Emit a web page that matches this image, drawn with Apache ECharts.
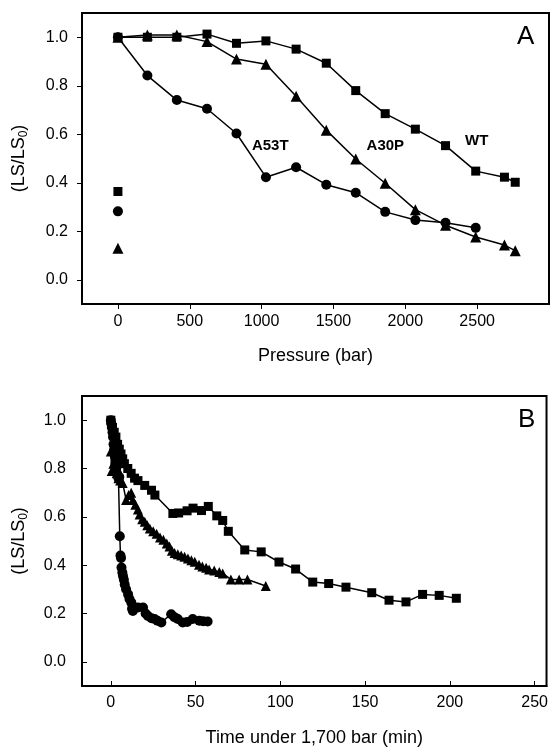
<!DOCTYPE html>
<html>
<head>
<meta charset="utf-8">
<script src="https://cdn.jsdelivr.net/npm/echarts@6/dist/echarts.min.js"></script>
<style>html,body{margin:0;padding:0;background:#fff}#c{width:551px;height:748px}</style>
</head>
<body>
<div id="c"></div>
<script>
// ---------- Panel A: LS/LS0 vs pressure (bar) ----------
const pressureWT   = [0, 205, 410, 620, 825, 1030, 1240, 1450, 1655, 1860, 2070, 2280, 2490, 2690, 2765];
const lsWT_A       = [1.0, 1.0, 1.0, 1.013, 0.975, 0.985, 0.951, 0.893, 0.780, 0.685, 0.621, 0.553, 0.448, 0.423, 0.402];
const pressureA30P = [0, 205, 410, 620, 825, 1030, 1240, 1450, 1655, 1860, 2070, 2280, 2490, 2690, 2765];
const lsA30P_A     = [1.0, 1.009, 1.009, 0.982, 0.910, 0.889, 0.757, 0.617, 0.498, 0.398, 0.289, 0.225, 0.176, 0.143, 0.120];
const pressureA53T = [0, 205, 410, 620, 825, 1030, 1240, 1450, 1655, 1860, 2070, 2280, 2490];
const lsA53T_A     = [1.0, 0.842, 0.741, 0.705, 0.603, 0.423, 0.464, 0.392, 0.359, 0.280, 0.246, 0.235, 0.214];
// isolated points at 0 bar
const isoWT   = [[0, 0.364]];
const isoA53T = [[0, 0.282]];
const isoA30P = [[0, 0.130]];
const xTicksA = [0, 500, 1000, 1500, 2000, 2500];
const yTicks  = [0, 0.2, 0.4, 0.6, 0.8, 1.0];
const annotA  = [['A53T', 1060, 0.552], ['A30P', 1861, 0.552], ['WT', 2497, 0.573]];

// ---------- Panel B: LS/LS0 vs time under 1,700 bar (min) ----------
const timeWT = [0, 1, 2, 3, 4, 5, 6, 7, 8, 10, 12, 14, 16, 20, 24, 26, 36.6, 40, 45, 48.5, 53.5, 57.5, 62.5, 66, 69.3, 79, 88.7, 99.2, 109, 119.1, 128.5, 138.7, 153.9, 164.1, 174.1, 183.9, 193.7, 203.8];
const lsWT_B = [1.0, 0.97, 0.95, 0.93, 0.90, 0.88, 0.86, 0.84, 0.82, 0.80, 0.78, 0.76, 0.75, 0.73, 0.71, 0.69, 0.614, 0.616, 0.625, 0.636, 0.626, 0.643, 0.604, 0.585, 0.540, 0.463, 0.455, 0.413, 0.384, 0.330, 0.324, 0.309, 0.286, 0.255, 0.248, 0.279, 0.275, 0.263];
const timeA30P = [0, 0.5, 1.5, 2.5, 3.5, 4.5, 5.5, 7, 9, 10.5, 12, 13, 14.5, 16, 17, 18.5, 20, 21.5, 23, 25, 27, 29, 31, 33, 34.6, 36, 37.6, 39.5, 41.5, 43.5, 45.5, 47.5, 49.5, 52, 54, 56.2, 58, 61, 64, 66, 70.8, 75.7, 80.6, 91.4];
const lsA30P_B = [0.87, 0.79, 0.82, 0.80, 0.78, 0.76, 0.75, 0.74, 0.67, 0.69, 0.70, 0.67, 0.65, 0.63, 0.61, 0.59, 0.58, 0.565, 0.552, 0.54, 0.53, 0.515, 0.505, 0.49, 0.477, 0.46, 0.45, 0.445, 0.44, 0.435, 0.428, 0.42, 0.414, 0.402, 0.395, 0.389, 0.382, 0.378, 0.372, 0.366, 0.341, 0.341, 0.341, 0.314];
const timeA53T = [0, 0.3, 0.6, 1, 1.3, 1.6, 2, 2.4, 2.8, 3.2, 3.6, 4, 4.5, 5, 5.3, 5.7, 6, 6.3, 6.8, 7.2, 7.7, 8.2, 9, 10.2, 11, 12.1, 12.5, 13, 16, 19, 20.5, 21.9, 24, 25.8, 27.5, 29.8, 35.6, 37.5, 39.5, 42.4, 45, 48.3, 52.2, 54.5, 57.1];
const lsA53T_B = [1.0, 0.985, 0.97, 0.95, 0.93, 0.90, 0.88, 0.85, 0.82, 0.80, 0.78, 0.77, 0.76, 0.765, 0.52, 0.44, 0.43, 0.39, 0.37, 0.355, 0.34, 0.32, 0.30, 0.279, 0.26, 0.245, 0.22, 0.21, 0.225, 0.225, 0.20, 0.19, 0.18, 0.177, 0.17, 0.163, 0.197, 0.185, 0.177, 0.163, 0.165, 0.177, 0.17, 0.168, 0.167];
const xTicksB = [0, 50, 100, 150, 200, 250];

const zip = (xs, ys) => xs.map((x, i) => [x, ys[i]]);
const FONT = 'Liberation Sans';

function lineSeries(xi, data, symbol, size) {
  return {
    type: 'line', xAxisIndex: xi, yAxisIndex: xi, data: data,
    symbol: symbol, symbolSize: size, showSymbol: true,
    lineStyle: {color: '#000', width: 1.5},
    itemStyle: {color: '#000', opacity: 1},
    animation: false, z: 3
  };
}
function isoSeries(data, symbol, size) {
  return {type: 'scatter', xAxisIndex: 0, yAxisIndex: 0, data: data, symbol: symbol,
    symbolSize: size, itemStyle: {color: '#000', opacity: 1}, animation: false};
}
function xAxis(gi, min, max, ticks, name, inside, gap, margin) {
  return {
    type: 'value', gridIndex: gi, min: min, max: max,
    name: name, nameLocation: 'middle', nameGap: gap,
    nameTextStyle: {fontFamily: FONT, fontSize: 18, color: '#000'},
    axisLine: {show: true, onZero: false, lineStyle: {color: '#000', width: 2}},
    axisTick: {show: true, inside: inside, length: 5, customValues: ticks, lineStyle: {color: '#000', width: 1}},
    axisLabel: {customValues: ticks, fontFamily: FONT, fontSize: 16, color: '#000', margin: margin,
      formatter: v => String(v)},
    splitLine: {show: false}
  };
}
function yAxis(gi, inside, margin) {
  return {
    type: 'value', gridIndex: gi, min: -0.1, max: 1.1,
    name: '(LS/LS{s|0})', nameLocation: 'middle', nameGap: 52, nameRotate: 90,
    nameTextStyle: {fontFamily: FONT, fontSize: 18, color: '#000',
      rich: {s: {fontFamily: FONT, fontSize: 12, color: '#000', padding: [10, 0, 0, 0]}}},
    axisLine: {show: true, onZero: false, lineStyle: {color: '#000', width: 2}},
    axisTick: {show: true, inside: inside, length: 5, customValues: yTicks, lineStyle: {color: '#000', width: 1}},
    axisLabel: {customValues: yTicks, fontFamily: FONT, fontSize: 16, color: '#000', margin: margin,
      formatter: v => v.toFixed(1)},
    splitLine: {show: false}
  };
}

const chart = echarts.init(document.getElementById('c'), null, {renderer: 'canvas'});
chart.setOption({
  backgroundColor: '#fff',
  animation: false,
  grid: [
    {left: 82, top: 13, width: 467, height: 291, show: true, borderColor: '#000', borderWidth: 2},
    {left: 82, top: 396, width: 466, height: 292, show: true, borderColor: '#000', borderWidth: 2}
  ],
  xAxis: [
    xAxis(0, -250, 3000, xTicksA, 'Pressure (bar)', false, 43, 10),
    xAxis(1, -17, 257, xTicksB, 'Time under 1,700 bar (min)', true, 43, 9)
  ],
  yAxis: [yAxis(0, false, 14), yAxis(1, true, 16)],
  graphic: [
    {type: 'text', left: 517, top: 24, style: {text: 'A', font: '26px "Liberation Sans"', fill: '#000'}},
    {type: 'text', left: 518, top: 407, style: {text: 'B', font: '26px "Liberation Sans"', fill: '#000'}}
  ],
  series: [
    lineSeries(0, zip(pressureWT, lsWT_A), 'rect', 9),
    lineSeries(0, zip(pressureA30P, lsA30P_A), 'triangle', 11),
    lineSeries(0, zip(pressureA53T, lsA53T_A), 'circle', 10),
    isoSeries(isoWT, 'rect', 9),
    isoSeries(isoA53T, 'circle', 10),
    isoSeries(isoA30P, 'triangle', 11),
    {
      type: 'custom', xAxisIndex: 0, yAxisIndex: 0, silent: true, animation: false,
      data: annotA.map(a => [a[1], a[2], a[0]]),
      encode: {x: 0, y: 1},
      renderItem: (params, api) => {
        const p = api.coord([api.value(0), api.value(1)]);
        return {type: 'text', x: p[0], y: p[1],
          style: {text: annotA[params.dataIndex][0], fill: '#000',
            font: 'bold 15px "Liberation Sans"', align: 'center', verticalAlign: 'middle'}};
      }
    },
    lineSeries(1, zip(timeWT, lsWT_B), 'rect', 9),
    lineSeries(1, zip(timeA30P, lsA30P_B), 'triangle', 10),
    lineSeries(1, zip(timeA53T, lsA53T_B), 'circle', 10)
  ]
});
</script>
</body>
</html>
